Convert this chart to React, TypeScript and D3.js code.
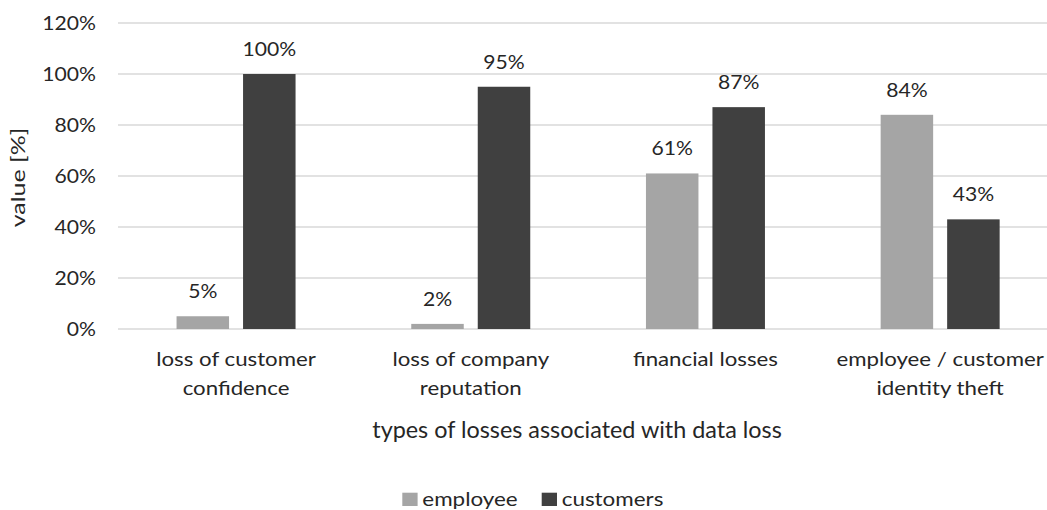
import React from "react";
import * as d3 from "d3";

const categories: string[][] = [
  ["loss of customer", "confidence"],
  ["loss of company", "reputation"],
  ["financial losses"],
  ["employee / customer", "identity theft"],
];
const seriesNames = ["employee", "customers"];
const employee = [5, 2, 61, 84];
const customers = [100, 95, 87, 43];
const yTicks = [0, 20, 40, 60, 80, 100, 120];
const xTitle = "types of losses associated with data loss";
const yTitle = "value [%]";

const W = 1047;
const H = 510;
const FONT = "Lato, 'Open Sans', sans-serif";
const TXT = "#262626";
const colors = ["#a5a5a5", "#404040"];

function T(props: {
  x: number;
  y: number;
  anchor?: string;
  size?: number;
  sx?: number;
  rot?: boolean;
  children: React.ReactNode;
}) {
  const { x, y, anchor = "middle", size = 18.7, sx = 1.13, rot = false, children } = props;
  const tr = rot
    ? `translate(${x},${y}) rotate(-90) scale(${sx},1)`
    : `translate(${x},${y}) scale(${sx},1)`;
  return (
    <text transform={tr} textAnchor={anchor} fontFamily={FONT} fontSize={size} fill={TXT}>
      {children}
    </text>
  );
}

export default function App() {
  const y = d3.scaleLinear().domain([0, 120]).range([329, 23]);
  const x = d3
    .scaleBand<number>()
    .domain(d3.range(categories.length))
    .range([118.7, 1057.5]);
  const barW = 52.5;
  const gap = 14;
  const series = [employee, customers];

  return (
    <svg
      width={W}
      height={H}
      style={{ position: "absolute", left: 0, top: 0, background: "#fff" }}
    >
      {yTicks.map((t) => (
        <g key={t}>
          <line x1={118} x2={W} y1={y(t)} y2={y(t)} stroke="#d9d9d9" strokeWidth={1.5} />
          <T x={96} y={y(t) + 6.7} anchor="end">{`${t}%`}</T>
        </g>
      ))}
      {categories.map((c, i) => {
        const cx = (x(i) as number) + x.bandwidth() / 2;
        return (
          <g key={i}>
            {series.map((s, k) => {
              const bx = k === 0 ? cx - gap / 2 - barW : cx + gap / 2;
              return (
                <g key={k}>
                  <rect x={bx} y={y(s[i])} width={barW} height={y(0) - y(s[i])} fill={colors[k]} />
                  <T x={bx + barW / 2} y={y(s[i]) - 18}>{`${s[i]}%`}</T>
                </g>
              );
            })}
            {c.map((line, j) => (
              <T key={j} x={cx} y={366 + j * 28.5} sx={1.19}>{line}</T>
            ))}
          </g>
        );
      })}
      <T x={577} y={438.3} size={22.8} sx={1.025}>{xTitle}</T>
      <T x={25.4} y={177.5} size={19.5} sx={1.28} rot>{yTitle}</T>
      {seriesNames.map((n, k) => {
        const lx = [402.3, 541.7][k];
        return (
          <g key={n}>
            <rect x={lx} y={492.7} width={15.3} height={13.3} fill={colors[k]} />
            <T x={lx + 20} y={505.8} anchor="start" size={19.5} sx={1.15}>{n}</T>
          </g>
        );
      })}
    </svg>
  );
}
